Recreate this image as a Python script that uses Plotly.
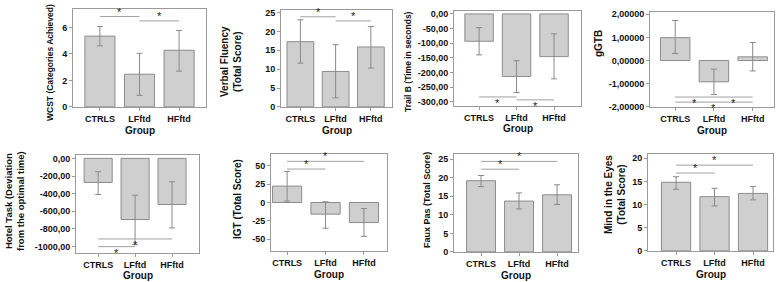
import plotly.graph_objects as go

# ---------------- data ----------------
groups = ["CTRLS", "LFftd", "HFftd"]

wcst_mean = [5.35, 2.47, 4.28]
wcst_low = [4.62, 0.87, 2.70]
wcst_high = [6.07, 4.05, 5.78]
wcst_sig = [(0, 1, 6.83), (1, 2, 6.50)]

fluency_mean = [17.3, 9.4, 15.9]
fluency_low = [11.6, 2.4, 10.3]
fluency_high = [23.1, 16.5, 21.3]
fluency_sig = [(0, 1, 23.9), (1, 2, 22.8)]

trail_mean = [-93.5, -214.0, -146.0]
trail_low = [-140.0, -269.0, -222.0]
trail_high = [-46.8, -160.0, -68.0]
trail_sig = [(0, 1, -284.0), (1, 2, -294.0)]

ggtb_mean = [0.99, -0.92, 0.16]
ggtb_low = [0.30, -1.47, -0.45]
ggtb_high = [1.73, -0.37, 0.78]
ggtb_sig = [(0, 1, -1.58), (1, 2, -1.58), (0, 2, -1.80)]

hotel_mean = [-273.0, -693.0, -523.0]
hotel_low = [-409.0, -977.0, -788.0]
hotel_high = [-151.0, -417.0, -265.0]
hotel_sig = [(0, 2, -913.0), (0, 1, -1000.0)]

igt_mean = [22.3, -15.9, -27.3]
igt_low = [2.0, -35.0, -46.0]
igt_high = [42.3, 1.0, -8.2]
igt_sig = [(0, 1, 45.5), (0, 2, 56.0)]

faux_mean = [19.2, 13.7, 15.4]
faux_low = [17.6, 11.6, 12.8]
faux_high = [20.6, 15.9, 18.1]
faux_sig = [(0, 1, 22.3), (0, 2, 24.4)]

eyes_mean = [14.8, 11.7, 12.4]
eyes_low = [13.3, 9.7, 11.0]
eyes_high = [16.0, 13.5, 13.9]
eyes_sig = [(0, 1, 16.8), (0, 2, 18.5)]

wcst_ticks = [0, 2, 4, 6]
fluency_ticks = [0, 5, 10, 15, 20, 25]
trail_ticks = [0, -50, -100, -150, -200, -250, -300]
ggtb_ticks = [2, 1, 0, -1, -2]
hotel_ticks = [0, -200, -400, -600, -800, -1000]
igt_ticks = [50, 25, 0, -25, -50]
faux_ticks = [0, 5, 10, 15, 20, 25]
eyes_ticks = [0, 5, 10, 15, 20]

wcst_ticktext = ["0", "2", "4", "6"]
fluency_ticktext = ["0", "5", "10", "15", "20", "25"]
trail_ticktext = ["0,00", "-50,00", "-100,00", "-150,00", "-200,00", "-250,00", "-300,00"]
ggtb_ticktext = ["2,00000", "1,00000", "0,00000", "-1,00000", "-2,00000"]
hotel_ticktext = ["0,00", "-200,00", "-400,00", "-600,00", "-800,00", "-1000,00"]
igt_ticktext = ["50", "25", "0", "-25", "-50"]
faux_ticktext = ["0", "5", "10", "15", "20", "25"]
eyes_ticktext = ["0", "5", "10", "15", "20"]

# ---------------- layout helpers ----------------
W, H = 783, 282
FONT = "Liberation Sans"
BAR_FILL = "#cfcfcf"
BAR_LINE = "#8c8c8c"
ERR = "#8a8a8a"
SIG = "#a0a0a0"
AXC = "#9a9a9a"

panels = [
    dict(mean=wcst_mean, low=wcst_low, high=wcst_high, sig=wcst_sig, ticks=wcst_ticks, tt=wcst_ticktext,
         box=(73, 206, 9, 107), yr=(-0.01, 7.4), xr=(-0.68, 2.68),
         title="WCST (Categories Achieved)", tpos=(50, 63), tsize=8.5, neg=False),
    dict(mean=fluency_mean, low=fluency_low, high=fluency_high, sig=fluency_sig, ticks=fluency_ticks, tt=fluency_ticktext,
         box=(281, 392, 10, 107), yr=(-0.03, 25.7), xr=(-0.55, 2.6),
         title="Verbal Fluency<br>(Total Score)", tpos=(231, 62), tsize=10, neg=False),
    dict(mean=trail_mean, low=trail_low, high=trail_high, sig=trail_sig, ticks=trail_ticks, tt=trail_ticktext,
         box=(454, 581, 11, 106), yr=(-315, 10), xr=(-0.67, 2.72),
         title="Trail B (Time in seconds)", tpos=(408, 61), tsize=8.5, neg=True),
    dict(mean=ggtb_mean, low=ggtb_low, high=ggtb_high, sig=ggtb_sig, ticks=ggtb_ticks, tt=ggtb_ticktext,
         box=(650, 774, 12, 107), yr=(-2.01, 2.1), xr=(-0.65, 2.55),
         title="gGTB", tpos=(598, 44), tsize=10, neg=True),
    dict(mean=hotel_mean, low=hotel_low, high=hotel_high, sig=hotel_sig, ticks=hotel_ticks, tt=hotel_ticktext,
         box=(76, 199, 155, 253), yr=(-1072, 38), xr=(-0.6, 2.73),
         title="Hotel Task (Deviation<br>from the optimal time)", tpos=(14, 201), tsize=9.5, neg=True),
    dict(mean=igt_mean, low=igt_low, high=igt_high, sig=igt_sig, ticks=igt_ticks, tt=igt_ticktext,
         box=(271, 387, 154, 251), yr=(-66, 66), xr=(-0.42, 2.6),
         title="IGT (Total Score)", tpos=(237, 199), tsize=10, neg=False),
    dict(mean=faux_mean, low=faux_low, high=faux_high, sig=faux_sig, ticks=faux_ticks, tt=faux_ticktext,
         box=(454, 578, 154, 252), yr=(-0.03, 26.4), xr=(-0.71, 2.55),
         title="Faux Pas (Total Score)", tpos=(427, 200), tsize=9, neg=False),
    dict(mean=eyes_mean, low=eyes_low, high=eyes_high, sig=eyes_sig, ticks=eyes_ticks, tt=eyes_ticktext,
         box=(648, 773, 154, 251), yr=(-0.02, 20.9), xr=(-0.73, 2.52),
         title="Mind in the Eyes<br>(Total Score)", tpos=(615, 195), tsize=10, neg=False),
]

fig = go.Figure()
annotations = []
shapes = []
layout_axes = {}

for k, p in enumerate(panels, start=1):
    xa = "x" if k == 1 else f"x{k}"
    ya = "y" if k == 1 else f"y{k}"
    xkey = "xaxis" if k == 1 else f"xaxis{k}"
    ykey = "yaxis" if k == 1 else f"yaxis{k}"
    l, r, t, b = p["box"]
    xs = list(range(len(groups)))
    up = [h - m for h, m in zip(p["high"], p["mean"])]
    dn = [m - lo for m, lo in zip(p["mean"], p["low"])]
    fig.add_trace(go.Bar(
        x=xs, y=p["mean"], xaxis=xa, yaxis=ya, width=0.76,
        marker=dict(color=BAR_FILL, line=dict(color=BAR_LINE, width=1)),
        error_y=dict(type="data", symmetric=False, array=up, arrayminus=dn,
                     color=ERR, thickness=1, width=3),
        showlegend=False, hoverinfo="skip",
    ))
    layout_axes[xkey] = dict(
        domain=[l / W, r / W], anchor=ya, range=list(p["xr"]),
        tickvals=xs, ticktext=groups, ticks="outside", ticklen=3, tickcolor=AXC,
        tickfont=dict(family=FONT, size=9, color="#111", weight="bold"),
        showline=True, linecolor=AXC, linewidth=1, mirror=True,
        showgrid=False, zeroline=False, fixedrange=True, automargin=False,
    )
    layout_axes[ykey] = dict(
        domain=[1 - b / H, 1 - t / H], anchor=xa, range=list(p["yr"]),
        tickvals=p["ticks"], ticktext=p["tt"], ticks="outside", ticklen=3, tickcolor=AXC,
        tickfont=dict(family=FONT, size=9, color="#111", weight="bold"),
        showline=True, linecolor=AXC, linewidth=1, mirror=True,
        showgrid=False, zeroline=False, fixedrange=True, automargin=False,
    )
    # significance brackets
    for (i, j, lvl) in p["sig"]:
        shapes.append(dict(type="line", xref=xa, yref=ya, x0=i, x1=j, y0=lvl, y1=lvl,
                           line=dict(color=SIG, width=1)))
        annotations.append(dict(
            x=(i + j) / 2, y=lvl, xref=xa, yref=ya, text="*", showarrow=False,
            yanchor="top" if p["neg"] else "bottom",
            yshift=2 if p["neg"] else -3,
            font=dict(family=FONT, size=11, color="#222222"),
        ))
    # axis titles
    annotations.append(dict(
        x=(l + r) / 2 / W, y=1 - min(b + 23, 275) / H, xref="paper", yref="paper",
        text="Group", showarrow=False, yanchor="middle", xanchor="center",
        font=dict(family=FONT, size=10, color="#111", weight="bold"),
    ))
    tx, ty = p["tpos"]
    annotations.append(dict(
        x=tx / W, y=1 - ty / H, xref="paper", yref="paper", text=p["title"],
        showarrow=False, textangle=-90, xanchor="center", yanchor="middle",
        font=dict(family=FONT, size=p["tsize"], color="#111", weight="bold"),
    ))

fig.update_layout(
    width=W, height=H, margin=dict(l=0, r=0, t=0, b=0),
    paper_bgcolor="white", plot_bgcolor="white",
    annotations=annotations, shapes=shapes, bargap=0.2,
    **layout_axes,
)

fig.write_html(
    "out.html",
    config={"displayModeBar": False, "staticPlot": True},
    post_script="document.body.style.margin='0';document.body.style.padding='0';",
)
